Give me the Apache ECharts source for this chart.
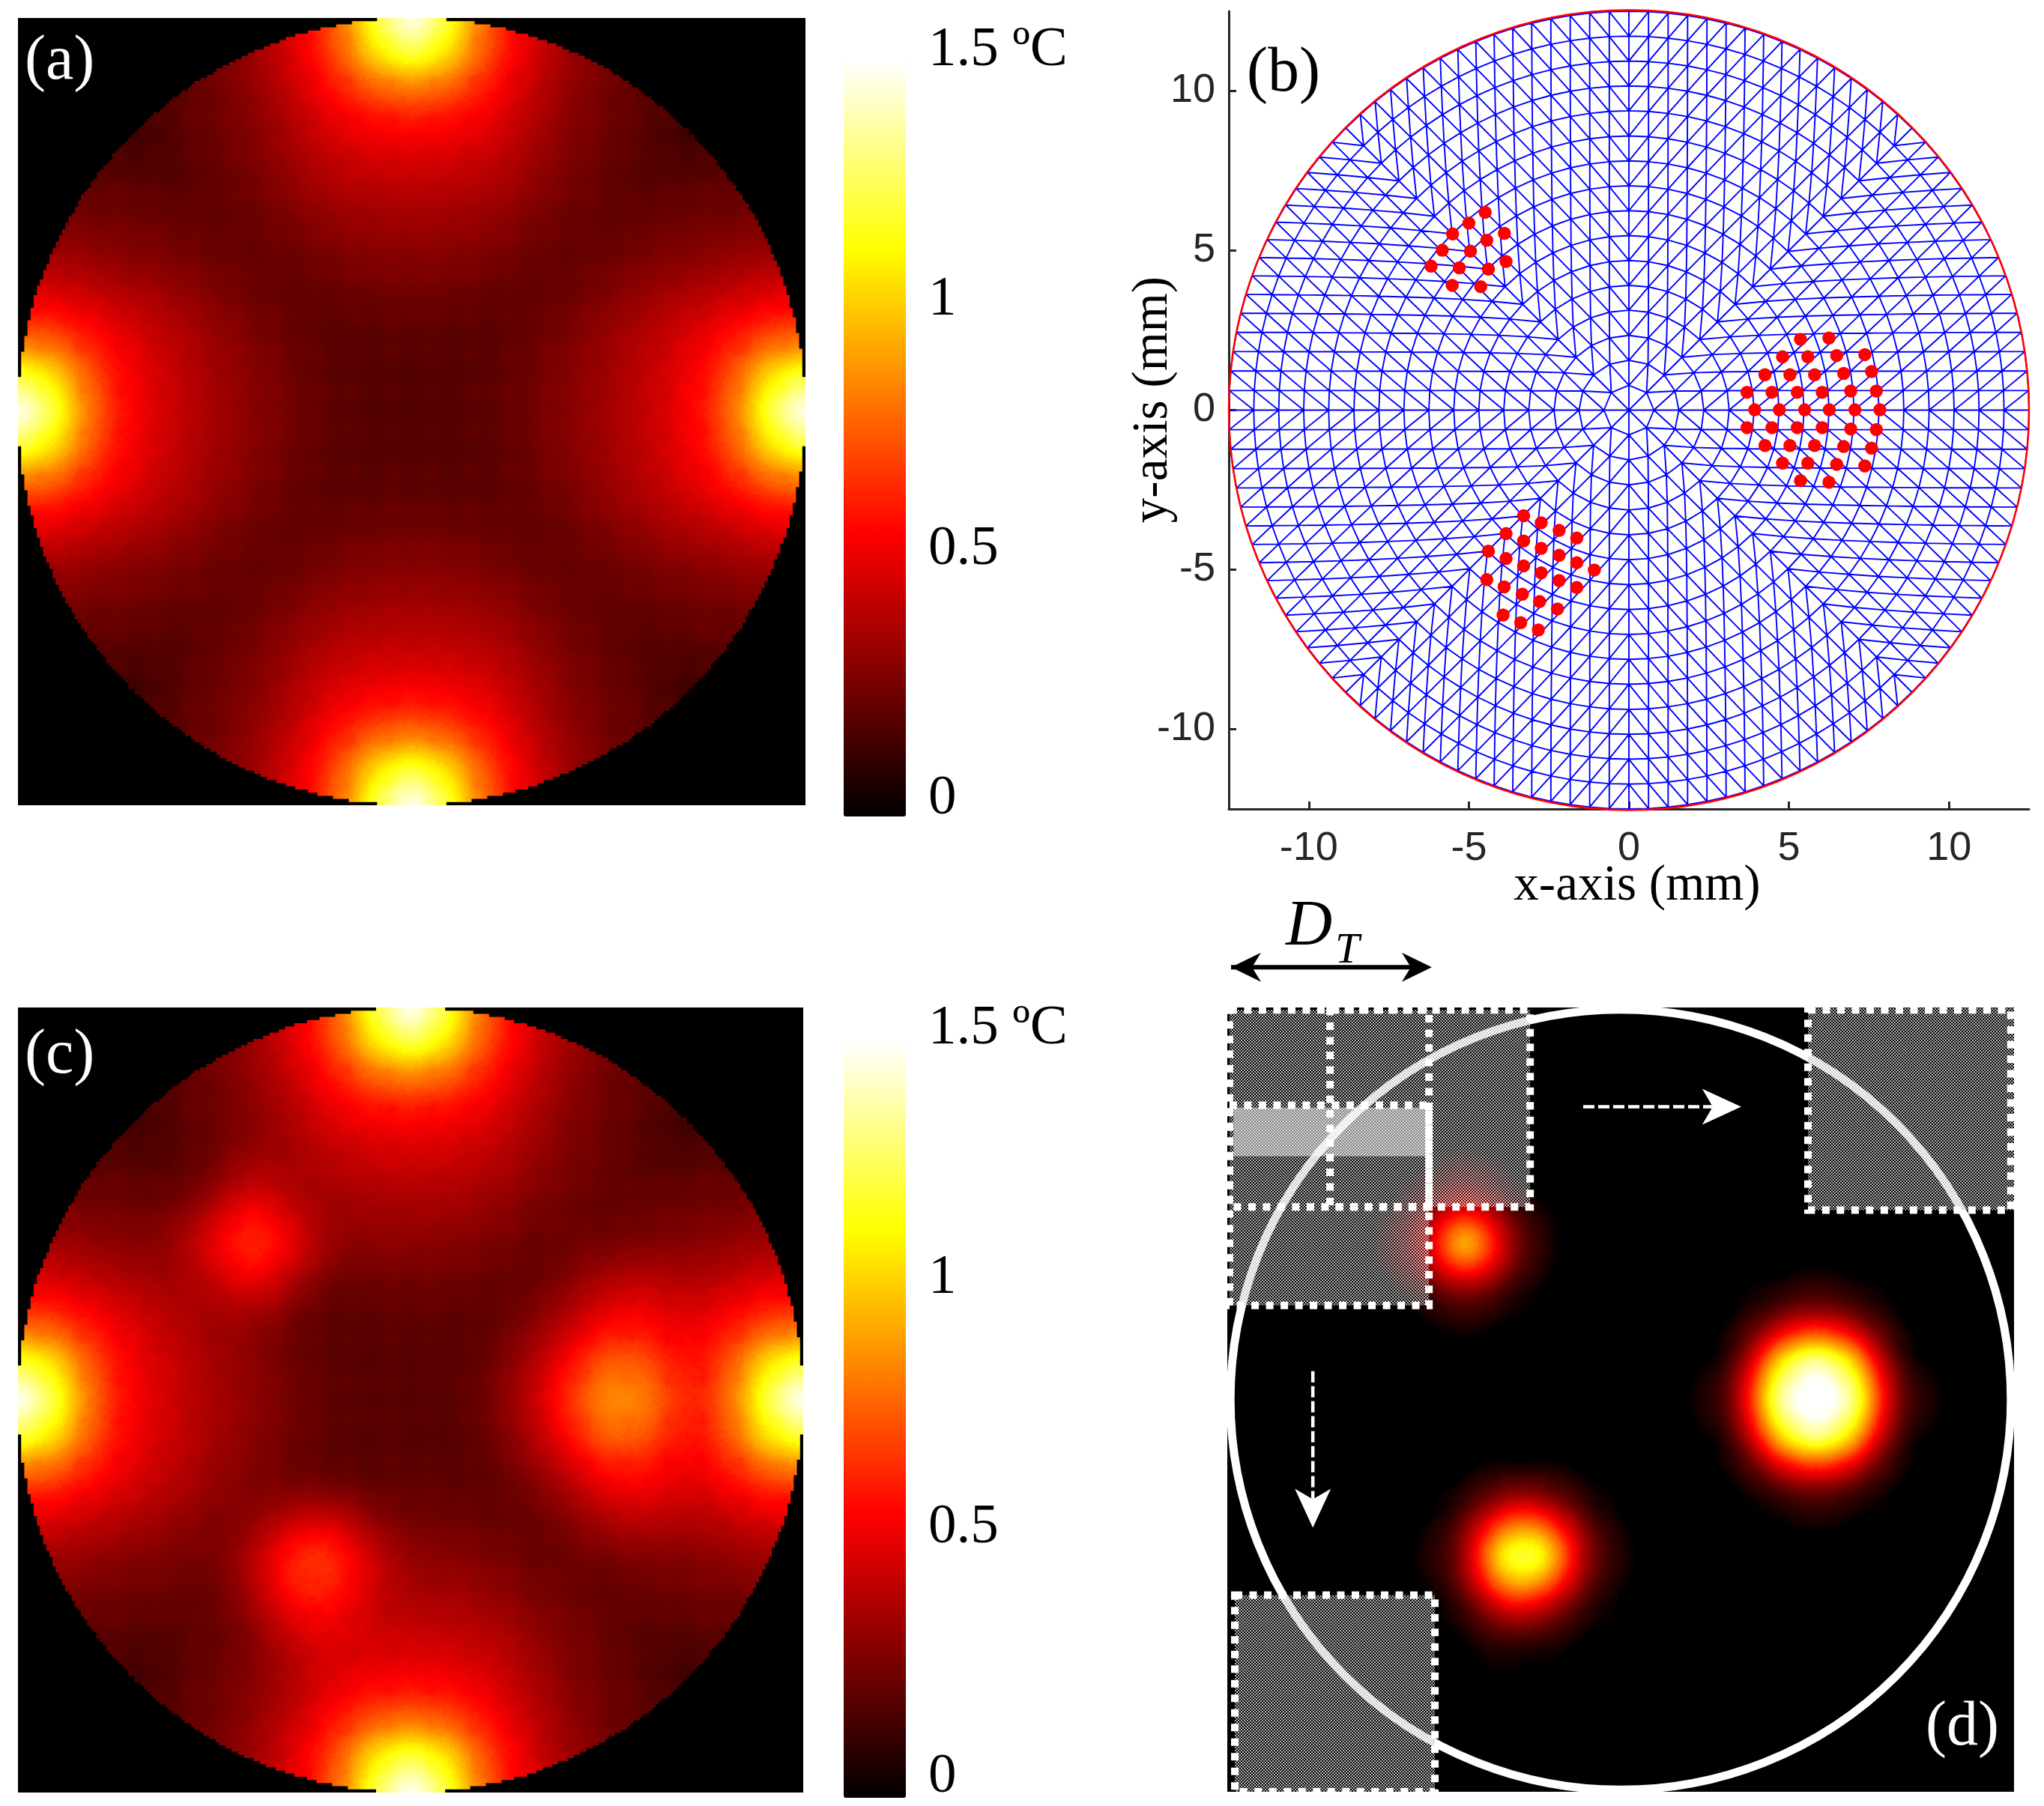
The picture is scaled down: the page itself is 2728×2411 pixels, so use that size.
<!DOCTYPE html>
<html>
<head>
<meta charset="utf-8">
<style>html,body{margin:0;padding:0;background:#fff}#main{width:2728px;height:2411px}</style>
<script src="https://cdn.jsdelivr.net/npm/echarts@6/dist/echarts.min.js"></script>
</head>
<body>
<div id="main"></div>
<script>
// temperature, in 0.01 C, on the lattice below (y goes from top to bottom)
var latticeAxis = [-13.75,-12.5,-11.25,-10,-8.75,-7.5,-6.25,-5,-3.75,-2.5,-1.25,0,1.25,2.5,3.75,5,6.25,7.5,8.75,10,11.25,12.5,13.75];
var fieldA = [
[0,0,0,0,15,18,24,30,48,65,105,125,105,65,48,30,24,18,15,0,0,0,0],
[0,0,0,0,15,20,26,34,54,74,125,170,125,74,54,34,26,20,15,0,0,0,0],
[0,0,0,0,16,22,27,36,50,70,105,125,105,70,50,36,27,22,16,0,0,0,0],
[0,0,0,12,16,22,27,33,45,59,70,75,70,59,45,33,27,22,16,12,0,0,0],
[15,15,16,16,14,21,26,30,40,50,54,56,54,50,40,30,26,21,14,16,16,15,15],
[18,20,22,22,21,19,24,28,35,42,45,46,45,42,35,28,24,19,21,22,22,20,18],
[24,26,27,27,26,24,22,25,30,35,37,38,37,35,30,25,22,24,26,27,27,26,24],
[30,34,36,33,30,28,25,24,25,29,31,32,31,29,25,24,25,28,30,33,36,34,30],
[48,54,50,45,40,35,30,25,23,24,26,27,26,24,23,25,30,35,40,45,50,54,48],
[65,74,70,59,50,42,35,29,24,21,22,23,22,21,24,29,35,42,50,59,70,74,65],
[105,125,105,70,54,45,37,31,26,22,20,20,20,22,26,31,37,45,54,70,105,125,105],
[125,170,125,75,56,46,38,32,27,23,20,20,20,23,27,32,38,46,56,75,125,170,125],
[105,125,105,70,54,45,37,31,26,22,20,20,20,22,26,31,37,45,54,70,105,125,105],
[65,74,70,59,50,42,35,29,24,21,22,23,22,21,24,29,35,42,50,59,70,74,65],
[48,54,50,45,40,35,30,25,23,24,26,27,26,24,23,25,30,35,40,45,50,54,48],
[30,34,36,33,30,28,25,24,25,29,31,32,31,29,25,24,25,28,30,33,36,34,30],
[24,26,27,27,26,24,22,25,30,35,37,38,37,35,30,25,22,24,26,27,27,26,24],
[18,20,22,22,21,19,24,28,35,42,45,46,45,42,35,28,24,19,21,22,22,20,18],
[15,15,16,16,14,21,26,30,40,50,54,56,54,50,40,30,26,21,14,16,16,15,15],
[0,0,0,12,16,22,27,33,45,59,70,75,70,59,45,33,27,22,16,12,0,0,0],
[0,0,0,0,16,22,27,36,50,70,105,125,105,70,50,36,27,22,16,0,0,0,0],
[0,0,0,0,15,20,26,34,54,74,125,170,125,74,54,34,26,20,15,0,0,0,0],
[0,0,0,0,15,18,24,30,48,65,105,125,105,65,48,30,24,18,15,0,0,0,0]
];
var fieldC = [
[0,0,0,0,15,18,24,30,48,65,105,125,105,65,48,30,24,18,15,0,0,0,0],
[0,0,0,0,15,20,26,34,54,74,125,170,125,74,54,34,26,20,15,0,0,0,0],
[0,0,0,0,16,22,27,36,50,70,105,125,105,70,50,36,27,22,16,0,0,0,0],
[0,0,0,12,16,22,27,33,45,59,70,75,70,59,45,33,27,22,16,12,0,0,0],
[15,15,16,16,14,21,26,30,40,50,54,56,54,50,40,30,26,21,14,16,16,15,15],
[18,20,22,22,21,19,24,38,35,42,45,46,45,42,35,28,24,19,21,22,22,20,18],
[24,26,27,27,26,24,38,58,40,35,37,38,37,35,30,25,22,24,26,27,27,26,24],
[30,34,36,33,30,34,58,75,58,34,31,32,31,29,25,24,25,28,30,33,36,34,30],
[48,54,50,45,40,35,42,58,38,24,26,27,26,24,23,30,42,46,40,45,50,54,48],
[65,74,70,59,50,42,35,34,24,21,22,23,22,21,30,42,58,58,52,59,70,74,65],
[105,125,105,70,54,45,37,31,26,22,20,20,20,24,38,56,80,75,56,70,105,125,105],
[125,170,125,75,56,46,38,32,27,23,20,20,20,26,44,68,95,90,62,75,125,170,125],
[105,125,105,70,54,45,37,31,26,22,20,20,20,24,38,56,80,75,56,70,105,125,105],
[65,74,70,59,50,42,35,29,24,21,22,23,22,21,30,42,58,58,52,59,70,74,65],
[48,54,50,45,40,35,30,30,44,48,30,27,26,24,23,30,42,46,40,45,50,54,48],
[30,34,36,33,30,28,25,42,72,75,48,32,31,29,25,24,25,28,30,33,36,34,30],
[24,26,27,27,26,24,22,38,64,64,46,38,37,35,30,25,22,24,26,27,27,26,24],
[18,20,22,22,21,19,24,28,48,52,45,46,45,42,35,28,24,19,21,22,22,20,18],
[15,15,16,16,14,21,26,30,40,50,54,56,54,50,40,30,26,21,14,16,16,15,15],
[0,0,0,12,16,22,27,33,45,59,70,75,70,59,45,33,27,22,16,12,0,0,0],
[0,0,0,0,16,22,27,36,50,70,105,125,105,70,50,36,27,22,16,0,0,0,0],
[0,0,0,0,15,20,26,34,54,74,125,170,125,74,54,34,26,20,15,0,0,0,0],
[0,0,0,0,15,18,24,30,48,65,105,125,105,65,48,30,24,18,15,0,0,0,0]
];
// panel d: only the three spots, [x mm, y mm, 0.01 C]
var spotsD = [
[6.25,0,170],[5,0,150],[7.5,0,150],[6.25,1.25,155],[6.25,-1.25,150],[5,1.25,115],[7.5,1.25,115],[5,-1.25,110],[7.5,-1.25,110],
[6.25,2.5,45],[6.25,-2.5,40],[5,2.5,15],[7.5,2.5,15],[5,-2.5,12],[7.5,-2.5,12],[3.75,0,25],[8.75,0,25],
[-2.5,-5,150],[-3.75,-5,145],[-2.5,-6.25,70],[-3.75,-6.25,80],[-2.5,-3.75,65],[-3.75,-3.75,65],[-1.25,-5,40],[-5,-5,30],
[-1.25,-6.25,10],[-5,-6.25,8],[-1.25,-3.75,10],[-5,-3.75,8],[-2.5,-7.5,6],[-3.75,-7.5,10],[-2.5,-2.5,3],[-3.75,-2.5,3],
[-5,5,150],[-3.75,5,50],[-6.25,5,40],[-5,6.25,45],[-5,3.75,45],[-3.75,3.75,10],[-6.25,3.75,8],[-3.75,6.25,8],[-6.25,6.25,8]
];
var barLabels = ['0','0.5','1','1.5 ºC'];
var tickValues = [-10,-5,0,5,10];
// panel b
var discRadius = [12.5];
var meshRingRadii = [0.78,1.56,2.34,3.13,3.91,4.69,5.47,6.25,7.03,7.81,8.59,9.38,10.16,10.94,11.72,12.5];
var tumourUpper = [[-4.49,6.20],[-5.00,5.86],[-5.51,5.52],[-3.89,5.54],[-4.44,5.32],[-5.83,5.01],[-4.95,4.98],[-6.18,4.51],[-5.30,4.46],[-4.39,4.42],[-3.84,4.66],[-5.52,3.91],[-4.63,3.87]];
var tumourRight = [
[5.36,2.22],[6.25,2.26],
[4.80,1.67],[5.59,1.67],[6.49,1.71],[7.37,1.74],
[4.25,1.11],[5.03,1.11],[5.80,1.11],[6.71,1.15],[7.58,1.21],
[3.69,0.56],[4.47,0.56],[5.26,0.56],[6.04,0.56],[6.93,0.60],[7.73,0.60],
[3.93,0.01],[4.70,0.01],[5.49,0.01],[6.26,0.01],[7.06,0.01],[7.84,0.01],
[3.69,-0.55],[4.47,-0.55],[5.26,-0.55],[6.04,-0.55],[6.93,-0.59],[7.73,-0.61],
[4.25,-1.11],[5.03,-1.11],[5.80,-1.11],[6.71,-1.14],[7.58,-1.19],
[4.80,-1.66],[5.59,-1.66],[6.49,-1.70],[7.37,-1.75],
[5.36,-2.21],[6.25,-2.26]
];
var tumourLower = [
[-3.29,-3.31],[-2.74,-3.53],[-2.18,-3.77],[-1.63,-4.01],
[-3.84,-3.87],[-3.29,-4.10],[-2.74,-4.33],[-2.18,-4.55],[-1.63,-4.78],[-1.08,-5.01],
[-4.39,-4.42],[-3.84,-4.65],[-3.29,-4.88],[-2.74,-5.10],[-2.18,-5.34],[-1.63,-5.56],
[-4.44,-5.31],[-3.90,-5.54],[-3.33,-5.77],[-2.79,-6.00],[-2.23,-6.23],
[-3.93,-6.42],[-3.38,-6.66],[-2.83,-6.89]
];
// panel d scan windows, [x0,y0,x1,y1] mm
var scanFill = [[-12.53,12.48,-2.9,6.17],[-12.53,6.17,-6.14,3.02],[6.0,12.55,12.6,6.07],[-12.36,-6.26,-5.95,-12.56]];
var scanBand = [[-12.4,9.35,-6.14,7.8]];
var scanOutline = [[-12.53,12.48,-6.14,6.17],[-9.31,12.48,-2.9,6.17],[-12.53,9.43,-6.14,3.02],[6.0,12.48,12.5,6.07],[-12.36,-6.26,-5.95,-12.56]];
var scanArrows = [[-1.2,9.38,3.86,9.38],[-9.86,0.91,-9.86,-4.1]];
var widthArrow = [[-12.48,13.85,-6.05,13.85]];

var SERIF = '"Liberation Serif"';
var BRUSH_POINT = 30, BRUSH_BLUR = 60, HEAT_MAX = 2, LATTICE_PX = 52.5;

function hot(t) {
    t = Math.max(0, Math.min(1, t));
    var r = Math.min(1, t / 0.375);
    var g = Math.max(0, Math.min(1, (t - 0.375) / 0.375));
    var b = Math.max(0, (t - 0.75) / 0.25);
    return 'rgb(' + Math.round(r * 255) + ',' + Math.round(g * 255) + ',' + Math.round(b * 255) + ')';
}
var barColors = [];
for (var c = 0; c <= 24; c++) barColors.push(hot(c / 24));

// the heat layer stacks its brushes, so the palette is measured against the same brush
function heatPalette() {
    var r = BRUSH_POINT + BRUSH_BLUR;
    var brush = document.createElement('canvas');
    brush.width = brush.height = r * 2;
    var bc = brush.getContext('2d');
    bc.shadowOffsetX = r * 2;
    bc.shadowBlur = BRUSH_BLUR;
    bc.shadowColor = '#000';
    bc.beginPath();
    bc.arc(-r, r, BRUSH_POINT, 0, Math.PI * 2, true);
    bc.closePath();
    bc.fill();
    var levels = [], values = [];
    var cv = document.createElement('canvas');
    cv.width = cv.height = 420;
    var ctx = cv.getContext('2d', {willReadFrequently: true});
    for (var v = 0; v <= 2; v += 0.02) {
        ctx.clearRect(0, 0, 420, 420);
        ctx.globalAlpha = v / HEAT_MAX;
        for (var i = 0; i < 9; i++) {
            for (var j = 0; j < 9; j++) ctx.drawImage(brush, i * LATTICE_PX - r, j * LATTICE_PX - r);
        }
        var px = ctx.getImageData(210, 210, 53, 53).data, sum = 0;
        for (var k = 3; k < px.length; k += 4) sum += px[k];
        levels.push(sum / (px.length / 4) / 256);
        values.push(v);
    }
    var out = [];
    for (var n = 0; n < 128; n++) {
        var a = n / 127, q = 0;
        while (q < levels.length - 2 && levels[q + 1] < a) q++;
        var span = levels[q + 1] - levels[q];
        var val = values[q] + (span > 0 ? (a - levels[q]) / span : 0) * 0.02;
        out.push(hot(val / 1.5));
    }
    return out;
}

function latticeData(rows) {
    var out = [];
    for (var r = 0; r < rows.length; r++) {
        for (var c = 0; c < rows[r].length; c++) {
            if (rows[r][c] > 0) out.push([latticeAxis[c], latticeAxis[rows.length - 1 - r], rows[r][c] / 100]);
        }
    }
    return out;
}
function spotData(list) {
    return list.map(function (p) { return [p[0], p[1], p[2] / 100]; });
}

// black square with a round hole, stepped like the pixels of the map
function maskMap() {
    var R = discRadius[0], cell = 0.1, hole = [], last = null;
    for (var i = 0; i <= 1440; i++) {
        var ang = -i / 1440 * Math.PI * 2;
        var x = Math.round(R * Math.cos(ang) / cell) * cell;
        var y = Math.round(R * Math.sin(ang) / cell) * cell;
        if (last && (last[0] !== x || last[1] !== y)) {
            hole.push([x, last[1]]);
        }
        if (!last || last[0] !== x || last[1] !== y) hole.push([x, y]);
        last = [x, y];
    }
    return {type: 'FeatureCollection', features: [{type: 'Feature', properties: {name: 'mask'}, geometry: {
        type: 'Polygon',
        coordinates: [[[-R, -R], [R, -R], [R, R], [-R, R], [-R, -R]], hole]
    }}]};
}
function squareMap() {
    var R = discRadius[0];
    return {type: 'FeatureCollection', features: [{type: 'Feature', properties: {name: 'square'}, geometry: {
        type: 'Polygon', coordinates: [[[-R, -R], [R, -R], [R, R], [-R, R], [-R, -R]]]
    }}]};
}
echarts.registerMap('mask', maskMap());
echarts.registerMap('square', squareMap());

// rings of 8k nodes, four sectors, spokes and diagonals running outward
function meshData() {
    var out = [];
    function node(s, k, j) {
        if (k === 0) return [0, 0];
        var r = meshRingRadii[k - 1];
        var ang = j / k * Math.PI / 4;
        var v = r * Math.sin(ang);
        var u = r * Math.cos(ang);
        if (s === 0) return [u, v];
        if (s === 1) return [v, u];
        if (s === 2) return [-u, v];
        return [v, -u];
    }
    function edge(a, b) {
        out.push(a, b, ['-', '-']);
    }
    for (var s = 0; s < 4; s++) {
        for (var j0 = -1; j0 <= 1; j0++) edge(node(s, 0, 0), node(s, 1, j0));
        for (var k = 1; k <= 16; k++) {
            for (var j = -k; j <= k; j++) {
                if (j < k) edge(node(s, k, j), node(s, k, j + 1));
                if (k < 16) {
                    edge(node(s, k, j), node(s, k + 1, j));
                    if (j >= 0) edge(node(s, k, j), node(s, k + 1, j + 1));
                    if (j <= 0) edge(node(s, k, j), node(s, k + 1, j - 1));
                }
            }
        }
    }
    return out;
}

function checkerTile(light, dark) {
    var cv = document.createElement('canvas');
    cv.width = cv.height = 4;
    var ctx = cv.getContext('2d');
    ctx.fillStyle = light;
    ctx.fillRect(0, 0, 2, 2);
    ctx.fillRect(2, 2, 2, 2);
    ctx.fillStyle = dark;
    ctx.fillRect(2, 0, 2, 2);
    ctx.fillRect(0, 2, 2, 2);
    return {image: cv, repeat: 'repeat'};
}

function rectItem(style) {
    return function (params, api) {
        var a = api.coord([api.value(0), api.value(1)]);
        var b = api.coord([api.value(2), api.value(3)]);
        return {type: 'rect', shape: {x: a[0], y: a[1], width: b[0] - a[0], height: b[1] - a[1]}, style: style};
    };
}
function circleItem(style) {
    return function (params, api) {
        var c0 = api.coord([0, 0]);
        var c1 = api.coord([api.value(0), 0]);
        return {type: 'circle', shape: {cx: c0[0], cy: c0[1], r: c1[0] - c0[0]}, style: style};
    };
}
function arrowHead(tip, dx, dy, len, half, notch, color) {
    return {type: 'polygon', shape: {points: [
        tip,
        [tip[0] - dx * len - dy * half, tip[1] - dy * len + dx * half],
        [tip[0] - dx * (len - notch), tip[1] - dy * (len - notch)],
        [tip[0] - dx * len + dy * half, tip[1] - dy * len - dx * half]
    ]}, style: {fill: color}};
}
function arrowItem(color, width, dash, len, half, notch, both) {
    return function (params, api) {
        var a = api.coord([api.value(0), api.value(1)]);
        var b = api.coord([api.value(2), api.value(3)]);
        var d = Math.sqrt((b[0] - a[0]) * (b[0] - a[0]) + (b[1] - a[1]) * (b[1] - a[1]));
        var dx = (b[0] - a[0]) / d, dy = (b[1] - a[1]) / d;
        var kids = [{type: 'line', shape: {x1: a[0], y1: a[1], x2: b[0] - dx * (len - notch), y2: b[1] - dy * (len - notch)},
            style: {stroke: color, lineWidth: width, lineDash: dash}}];
        kids.push(arrowHead(b, dx, dy, len, half, notch, color));
        if (both) kids.push(arrowHead(a, -dx, -dy, len, half, notch, color));
        return {type: 'group', children: kids};
    };
}
function panelText(text, x, y, color, size, italic) {
    return {type: 'text', z: 20, x: x, y: y, silent: true, style: {
        text: text, fill: color, font: (italic ? 'italic ' : '') + size + 'px ' + SERIF
    }};
}
function rimTick(x1, y1, x2, y2) {
    return {type: 'line', z: 20, silent: true, shape: {x1: x1, y1: y1, x2: x2, y2: y2}, style: {stroke: '#fff', lineWidth: 2}};
}
function heatSeries(geoIndex, data, opacity) {
    return {type: 'heatmap', coordinateSystem: 'geo', geoIndex: geoIndex, pointSize: BRUSH_POINT, blurSize: BRUSH_BLUR,
        minOpacity: opacity, maxOpacity: 1, z: 2, silent: true, data: data};
}
function hiddenVisual(index, palette) {
    return {type: 'continuous', show: false, min: 0, max: HEAT_MAX, seriesIndex: [index], inRange: {color: palette}};
}
function barVisual(top) {
    return {type: 'continuous', show: true, min: 0, max: 1.5, seriesIndex: [], calculable: false, hoverLink: false,
        left: 1126, top: top, itemWidth: 83, itemHeight: 1010, padding: 0, text: null, inRange: {color: barColors},
        textStyle: {color: 'transparent'}};
}
function barAxis() {
    return {type: 'value', position: 'right', min: 0, max: 1.5, interval: 0.5, axisLine: {show: false}, axisTick: {show: false},
        splitLine: {show: false}, axisLabel: {margin: 12, fontFamily: SERIF, fontSize: 75, color: '#000', formatter: function (v) {
            return barLabels[Math.round(v * 2)];
        }}};
}

var palette = heatPalette();
var blackStyle = {areaColor: '#000', borderWidth: 0, borderColor: 'rgba(0,0,0,0)'};
var noStyle = {areaColor: 'rgba(0,0,0,0)', borderWidth: 0, borderColor: 'rgba(0,0,0,0)'};
function geoBox(map, left, top, size, z, style) {
    return {map: map, left: left, top: top, width: size, height: size, aspectScale: 1, roam: false, silent: true, z: z,
        boundingCoords: [[-12.5, 12.5], [12.5, -12.5]], label: {show: false}, itemStyle: style,
        emphasis: {disabled: true}, select: {disabled: true}};
}
var axisColor = '#262626';

var myChart = echarts.init(document.getElementById('main'));
var option = {
    animation: false,
    backgroundColor: '#fff',
    geo: [
        geoBox('mask', 24, 24, 1051, 3, blackStyle),
        geoBox('mask', 24, 1345, 1048, 3, blackStyle),
        geoBox('square', 1642, 1347, 1042, 0, noStyle)
    ],
    visualMap: [hiddenVisual(0, palette), hiddenVisual(1, palette), hiddenVisual(2, palette), barVisual(80), barVisual(1390)],
    grid: [
        {left: 1640, top: 15, width: 1068, height: 1065},
        {left: 1638, top: 1345, width: 1050, height: 1047, show: true, backgroundColor: '#000', borderWidth: 0},
        {left: 1226, top: 67, width: 1, height: 999},
        {left: 1226, top: 1373, width: 1, height: 999}
    ],
    xAxis: [
        {gridIndex: 0, type: 'value', min: -12.5, max: 12.5, splitLine: {show: false},
            axisLine: {onZero: false, lineStyle: {color: axisColor, width: 3}},
            axisTick: {inside: true, length: 10, customValues: tickValues, lineStyle: {color: axisColor, width: 3}},
            axisLabel: {fontFamily: '"Liberation Sans"', fontSize: 54, color: '#262626', margin: 26, customValues: tickValues},
            name: 'x-axis (mm)', nameLocation: 'middle', nameGap: 70, nameMoveOverlap: false,
            nameTextStyle: {fontFamily: SERIF, fontSize: 67, color: '#000', padding: [0, 0, 0, 22]}},
        {gridIndex: 1, type: 'value', min: -12.6, max: 12.6, show: false},
        {gridIndex: 2, type: 'value', min: 0, max: 1, show: false},
        {gridIndex: 3, type: 'value', min: 0, max: 1, show: false}
    ],
    yAxis: [
        {gridIndex: 0, type: 'value', min: -12.5, max: 12.5, splitLine: {show: false},
            axisLine: {onZero: false, lineStyle: {color: axisColor, width: 3}},
            axisTick: {inside: true, length: 10, customValues: tickValues, lineStyle: {color: axisColor, width: 3}},
            axisLabel: {fontFamily: '"Liberation Sans"', fontSize: 54, color: '#262626', margin: 18, padding: [7, 0, 0, 0], customValues: tickValues},
            name: 'y-axis (mm)', nameLocation: 'middle', nameGap: 67, nameMoveOverlap: false,
            nameTextStyle: {fontFamily: SERIF, fontSize: 67, color: '#000', padding: [0, 0, 0, 28]}},
        {gridIndex: 1, type: 'value', min: -12.56, max: 12.56, show: false},
        Object.assign({gridIndex: 2}, barAxis()),
        Object.assign({gridIndex: 3}, barAxis())
    ],
    series: [
        heatSeries(0, latticeData(fieldA), 1),
        heatSeries(1, latticeData(fieldC), 1),
        heatSeries(2, spotData(spotsD), 1),
        // panel b
        {type: 'line', xAxisIndex: 0, yAxisIndex: 0, data: meshData(), showSymbol: false, connectNulls: false, silent: true,
            lineStyle: {color: '#0000ff', width: 1.9}, z: 2},
        {type: 'custom', xAxisIndex: 0, yAxisIndex: 0, data: [discRadius], silent: true, z: 3, encode: {x: 0},
            renderItem: circleItem({fill: 'none', stroke: '#ff0000', lineWidth: 2.5})},
        {type: 'scatter', xAxisIndex: 0, yAxisIndex: 0, data: tumourUpper, symbolSize: 17.5, itemStyle: {color: '#ff0000', opacity: 1}, silent: true, z: 4},
        {type: 'scatter', xAxisIndex: 0, yAxisIndex: 0, data: tumourRight, symbolSize: 17.5, itemStyle: {color: '#ff0000', opacity: 1}, silent: true, z: 4},
        {type: 'scatter', xAxisIndex: 0, yAxisIndex: 0, data: tumourLower, symbolSize: 17.5, itemStyle: {color: '#ff0000', opacity: 1}, silent: true, z: 4},
        // panel d
        {type: 'custom', xAxisIndex: 1, yAxisIndex: 1, data: [discRadius], silent: true, z: 1, encode: {x: 0},
            renderItem: circleItem({fill: 'none', stroke: '#fff', lineWidth: 11})},
        {type: 'custom', xAxisIndex: 1, yAxisIndex: 1, data: scanFill, silent: true, z: 3,
            renderItem: rectItem({fill: checkerTile('rgba(255,255,255,0.7)', 'rgba(0,0,0,0.22)')})},
        {type: 'custom', xAxisIndex: 1, yAxisIndex: 1, data: scanBand, silent: true, z: 3,
            renderItem: rectItem({fill: 'rgba(255,255,255,0.5)'})},
        {type: 'custom', xAxisIndex: 1, yAxisIndex: 1, data: scanOutline, silent: true, z: 4,
            renderItem: rectItem({fill: 'none', stroke: '#fff', lineWidth: 10, lineDash: [10, 9.5]})},
        {type: 'custom', xAxisIndex: 1, yAxisIndex: 1, data: scanArrows, silent: true, z: 5,
            renderItem: arrowItem('#fff', 4.5, [15, 5], 52, 24, 14, false)},
        {type: 'custom', xAxisIndex: 1, yAxisIndex: 1, data: widthArrow, silent: true, z: 5,
            renderItem: arrowItem('#000', 6, null, 40, 19.5, 12, true)}
    ],
    graphic: {z: 20, elements: [
        panelText('(a)', 33, 41, '#fff', 84),
        panelText('(b)', 1664, 57, '#000', 84),
        panelText('(c)', 33, 1368, '#fff', 84),
        panelText('(d)', 2570, 2265, '#fff', 84),
        panelText('D', 1716, 1195, '#000', 86, true),
        panelText('T', 1782, 1241, '#000', 58, true),
        rimTick(549, 24, 549, 28), rimTick(549, 1071, 549, 1075), rimTick(24, 549, 28, 549), rimTick(1071, 549, 1075, 549),
        rimTick(546, 1345, 546, 1349), rimTick(546, 2389, 546, 2393), rimTick(24, 1869, 28, 1869), rimTick(1068, 1869, 1072, 1869)
    ]}
};
myChart.setOption(option);
window.addEventListener('resize', function () {
    myChart.resize();
});
</script>
</body>
</html>
